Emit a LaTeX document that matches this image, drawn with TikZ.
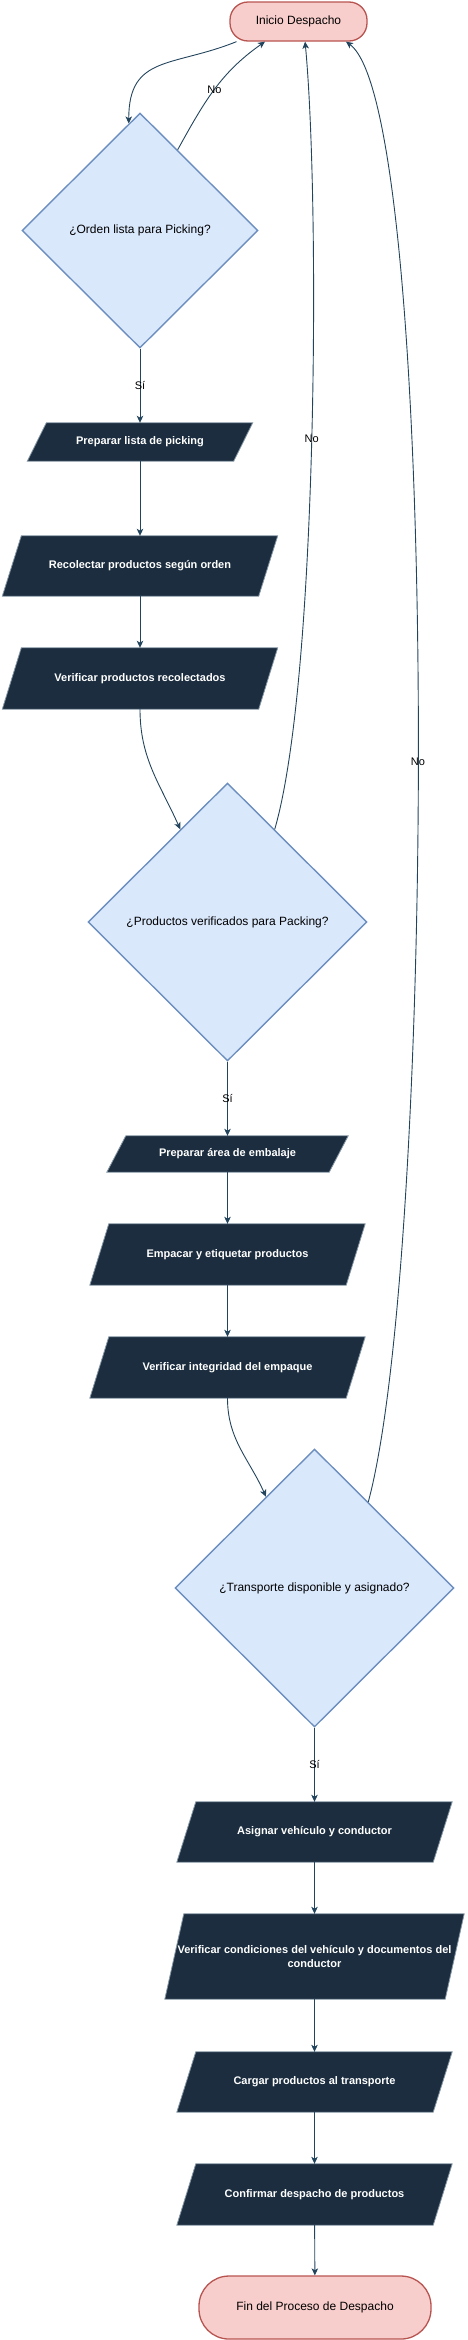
\documentclass[tikz,border=0pt]{standalone}
\usepackage{fontspec}
\setmainfont{Liberation Sans}
\usetikzlibrary{arrows.meta, shapes.geometric, backgrounds}

\definecolor{edgeblue}{HTML}{23445D}
\definecolor{termfill}{HTML}{F8CECC}
\definecolor{termline}{HTML}{B85450}
\definecolor{decfill}{HTML}{DAE8FC}
\definecolor{decline}{HTML}{6C8EBF}
\definecolor{stepdark}{HTML}{1B2D3F}
\definecolor{stepline}{HTML}{8596A4}

\tikzset{
  terminal/.style={rectangle, draw=termline, fill=termfill, line width=1.3pt,
    rounded corners=18pt, minimum width=137pt, minimum height=39pt,
    font=\fontsize{12}{14}\selectfont},
  decision/.style={diamond, draw=decline, fill=decfill, line width=1.4pt,
    inner sep=0pt, font=\fontsize{12}{14}\selectfont},
  stepbox/.style={rectangle, inner sep=2pt, text=white, align=center,
    font=\bfseries\fontsize{11}{14}\selectfont},
  stepfill/.style={fill=stepdark, draw=stepline, line width=0.8pt},
  flow/.style={draw=edgeblue, line width=0.9pt,
    -{Stealth[length=7pt, width=6.5pt, inset=1.8pt]}},
  lbl/.style={font=\fontsize{11}{13}\selectfont, inner sep=1pt}
}

\begin{document}
\begin{tikzpicture}[x=1pt, y=1pt]
  \useasboundingbox (0,0) rectangle (467,-2340);

  % picking
  \node[terminal] (start) at (298.5,-21.5) {Inicio Despacho};
  \node[decision, minimum width=236pt, minimum height=235pt] (orden) at (140,-230.5) {¿Orden lista para Picking?};
  \node[stepbox, minimum width=225pt, minimum height=38pt] (lista) at (140,-442) {Preparar lista de picking};
  \node[stepbox, minimum width=275pt, minimum height=60pt] (recol) at (140,-566) {Recolectar productos según orden};
  \node[stepbox, minimum width=275pt, minimum height=61pt] (verif) at (140,-678.5) {Verificar productos recolectados};

  % packing
  \node[decision, minimum width=279pt, minimum height=278pt] (packing) at (227.5,-922) {¿Productos verificados para Packing?};
  \node[stepbox, minimum width=241pt, minimum height=36pt] (area) at (227.5,-1154) {Preparar área de embalaje};
  \node[stepbox, minimum width=275pt, minimum height=61pt] (empacar) at (227.5,-1254.5) {Empacar y etiquetar productos};
  \node[stepbox, minimum width=275pt, minimum height=61pt] (integ) at (227.5,-1367.5) {Verificar integridad del empaque};

  % transporte
  \node[decision, minimum width=279pt, minimum height=278pt] (transp) at (314.5,-1588) {¿Transporte disponible y asignado?};
  \node[stepbox, minimum width=275pt, minimum height=60pt] (asignar) at (314.5,-1832) {Asignar vehículo y conductor};
  \node[stepbox, minimum width=299pt, minimum height=85pt] (condic) at (314.5,-1956.5) {Verificar condiciones del vehículo y documentos del\\conductor};
  \node[stepbox, minimum width=275pt, minimum height=60pt] (cargar) at (314.5,-2082) {Cargar productos al transporte};
  \node[stepbox, minimum width=275pt, minimum height=61pt] (confirm) at (314.5,-2194.5) {Confirmar despacho de productos};
  \node[terminal, minimum width=232pt, minimum height=63pt, rounded corners=30pt] (fin) at (315,-2307.5) {Fin del Proceso de Despacho};

  \begin{scope}[on background layer]
    \foreach \n in {lista, recol, verif, area, empacar, integ, asignar, condic, cargar, confirm}
      \draw[stepfill] ([xshift=19pt]\n.north west) -- (\n.north east)
        -- ([xshift=-19pt]\n.south east) -- (\n.south west) -- cycle;
  \end{scope}

  \draw[flow] (start.198) to[out=202, in=90, looseness=1.3] (orden.96);
  \draw[flow] (orden.65) to[out=61, in=215] node[lbl] {No} (start.211);
  \draw[flow] (orden) -- node[lbl] {Sí} (lista);
  \draw[flow] (lista) -- (recol);
  \draw[flow] (recol) -- (verif);
  \draw[flow] (verif.south) to[out=270, in=114] (packing.117);

  \draw[flow] (packing.63) .. controls (318,-680) and (320,-200) .. node[lbl, pos=0.5] {No} (start.288);
  \draw[flow] (packing) -- node[lbl] {Sí} (area);
  \draw[flow] (area) -- (empacar);
  \draw[flow] (empacar) -- (integ);
  \draw[flow] (integ.south) to[out=270, in=114] (transp.118);

  \draw[flow] (transp.58) .. controls (436,-1250) and (440,-110) .. node[lbl, pos=0.47] {No} (start.337);
  \draw[flow] (transp) -- node[lbl] {Sí} (asignar);
  \draw[flow] (asignar) -- (condic);
  \draw[flow] (condic) -- (cargar);
  \draw[flow] (cargar) -- (confirm);
  \draw[flow] (confirm) -- (fin);
\end{tikzpicture}
\end{document}
